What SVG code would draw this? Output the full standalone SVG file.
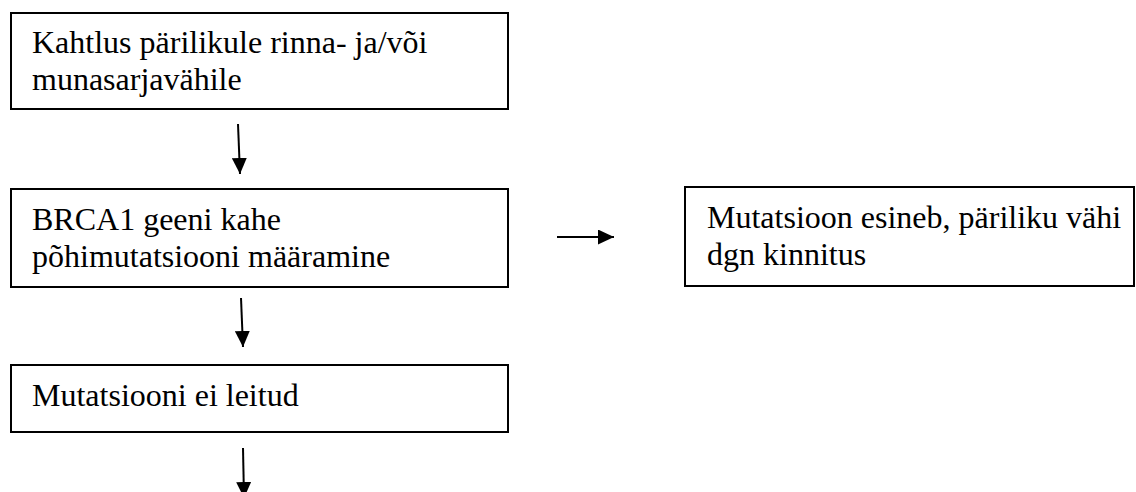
<svg xmlns="http://www.w3.org/2000/svg" width="1136" height="492" viewBox="0 0 1136 492">
<style>
.box{fill:#fff;stroke:#000;stroke-width:2}
.c{stroke:#000;stroke-width:2;fill:none}
.t{font-family:'Liberation Serif','Tinos','Nimbus Roman','Noto Serif','FreeSerif','DejaVu Serif',Times,serif;font-size:32px;fill:#000}
</style>
<defs>
<marker id="ah" markerUnits="userSpaceOnUse" markerWidth="16" markerHeight="15" refX="16" refY="7.5" orient="auto">
<path d="M0,0 L16,7.5 L0,15 z" fill="#000"/>
</marker>
</defs>
<rect width="1136" height="492" fill="#fff"/>
<g id="n1">
<rect class="box" x="11" y="13" width="497" height="96"/>
<text class="t" x="32" y="53">Kahtlus pärilikule rinna- ja/või</text>
<text class="t" x="32" y="90">munasarjavähile</text>
</g>
<g id="n2">
<rect class="box" x="11" y="189" width="497" height="98"/>
<text class="t" x="32" y="230">BRCA1 geeni kahe</text>
<text class="t" x="32" y="267">põhimutatsiooni määramine</text>
</g>
<g id="n3">
<rect class="box" x="11" y="365" width="497" height="67"/>
<text class="t" x="32" y="406">Mutatsiooni ei leitud</text>
</g>
<g id="n4">
<rect class="box" x="685" y="187" width="449" height="99"/>
<text class="t" x="707" y="228">Mutatsioon esineb, päriliku vähi</text>
<text class="t" x="707" y="265">dgn kinnitus</text>
</g>
<g id="connectors">
<line class="c" x1="238" y1="124" x2="240" y2="174" marker-end="url(#ah)"/>
<line class="c" x1="241" y1="298" x2="243" y2="347" marker-end="url(#ah)"/>
<line class="c" x1="243" y1="448" x2="244" y2="498" marker-end="url(#ah)"/>
<line class="c" x1="557" y1="237" x2="614" y2="237" marker-end="url(#ah)"/>
</g>
</svg>
